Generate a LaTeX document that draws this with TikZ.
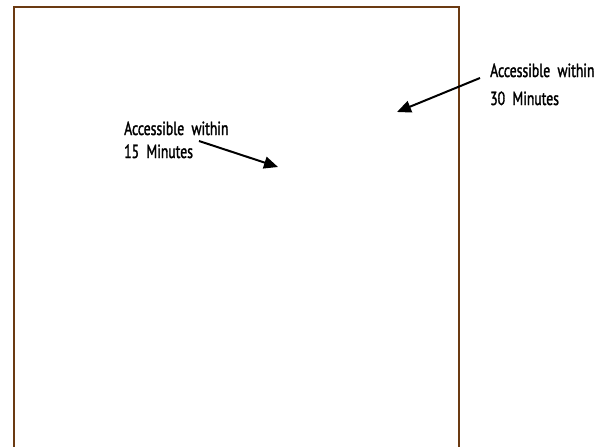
\documentclass[tikz,border=0pt]{standalone}
\usepackage{fontspec}
\setmainfont[FakeStretch=0.72,FakeBold=1.6]{PT Sans}
\usetikzlibrary{arrows.meta}
\definecolor{framebrown}{HTML}{6B3A12}
\tikzset{
  lbl/.style={align=left, inner sep=0pt, font=\fontsize{19}{23}\selectfont, anchor=base west},
  pointer/.style={line width=2pt, -{Triangle[length=14pt,width=12pt]}},
  frame/.style={draw=framebrown, line width=2pt}
}
\begin{document}
\begin{tikzpicture}[x=1pt,y=-1pt]
\useasboundingbox (0,0) rectangle (608,447);
\draw[frame] (14,460) -- (14,7) -- (459,7) -- (459,460);
\node[lbl] (t15) at (124,158) {Accessible \ within\\15 \ Minutes};
\node[lbl, font=\fontsize{19}{28}\selectfont] (t30) at (490,105) {Accessible \ within\\30 \ Minutes};
\coordinate (a15) at (199,141);
\coordinate (h15) at (278,167);
\coordinate (a30) at (480,78);
\coordinate (h30) at (397,112);
\draw[pointer] (a15) -- (h15);
\draw[pointer] (a30) -- (h30);
\end{tikzpicture}
\end{document}
